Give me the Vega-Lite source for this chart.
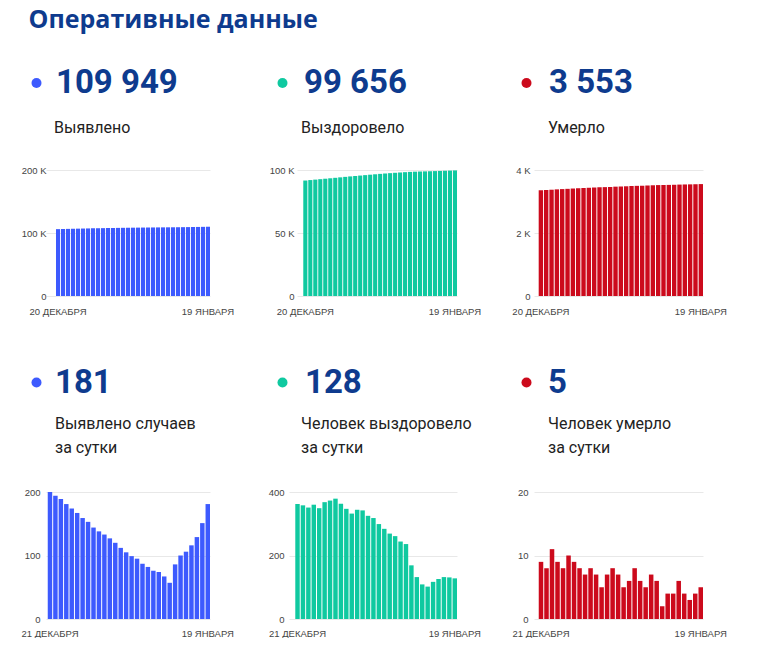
{
  "$schema": "https://vega.github.io/schema/vega-lite/v6.json",
  "background": "white",
  "padding": {"left": 20, "top": 7, "right": 0, "bottom": 0},
  "autosize": {"type": "pad"},
  "title": {"text": "Оперативные данные", "anchor": "start", "frame": "group", "dx": -17.5, "offset": 34, "font": "Open Sans", "fontSize": 25, "fontWeight": "bold", "color": "#0e3b8e"},
  "datasets": {
    "cases_total": [
      {"date": "2020-12-20", "value": 106147}, {"date": "2020-12-21", "value": 106347}, {"date": "2020-12-22", "value": 106541}, {"date": "2020-12-23", "value": 106730}, {"date": "2020-12-24", "value": 106911}, {"date": "2020-12-25", "value": 107085}, {"date": "2020-12-26", "value": 107252}, {"date": "2020-12-27", "value": 107411}, {"date": "2020-12-28", "value": 107564}, {"date": "2020-12-29", "value": 107708}, {"date": "2020-12-30", "value": 107846}, {"date": "2020-12-31", "value": 107979},
      {"date": "2021-01-01", "value": 108106}, {"date": "2021-01-02", "value": 108226}, {"date": "2021-01-03", "value": 108338}, {"date": "2021-01-04", "value": 108443}, {"date": "2021-01-05", "value": 108542}, {"date": "2021-01-06", "value": 108637}, {"date": "2021-01-07", "value": 108724}, {"date": "2021-01-08", "value": 108806}, {"date": "2021-01-09", "value": 108882}, {"date": "2021-01-10", "value": 108956}, {"date": "2021-01-11", "value": 109023}, {"date": "2021-01-12", "value": 109080}, {"date": "2021-01-13", "value": 109166}, {"date": "2021-01-14", "value": 109266}, {"date": "2021-01-15", "value": 109372}, {"date": "2021-01-16", "value": 109488}, {"date": "2021-01-17", "value": 109617}, {"date": "2021-01-18", "value": 109768}, {"date": "2021-01-19", "value": 109949}
    ],
    "recov_total": [
      {"date": "2020-12-20", "value": 91646}, {"date": "2020-12-21", "value": 92008}, {"date": "2020-12-22", "value": 92366}, {"date": "2020-12-23", "value": 92717}, {"date": "2020-12-24", "value": 93077}, {"date": "2020-12-25", "value": 93426}, {"date": "2020-12-26", "value": 93794}, {"date": "2020-12-27", "value": 94167}, {"date": "2020-12-28", "value": 94546}, {"date": "2020-12-29", "value": 94909}, {"date": "2020-12-30", "value": 95256}, {"date": "2020-12-31", "value": 95588},
      {"date": "2021-01-01", "value": 95932}, {"date": "2021-01-02", "value": 96274}, {"date": "2021-01-03", "value": 96599}, {"date": "2021-01-04", "value": 96917}, {"date": "2021-01-05", "value": 97216}, {"date": "2021-01-06", "value": 97500}, {"date": "2021-01-07", "value": 97769}, {"date": "2021-01-08", "value": 98030}, {"date": "2021-01-09", "value": 98274}, {"date": "2021-01-10", "value": 98510}, {"date": "2021-01-11", "value": 98679}, {"date": "2021-01-12", "value": 98811}, {"date": "2021-01-13", "value": 98920}, {"date": "2021-01-14", "value": 99022}, {"date": "2021-01-15", "value": 99139}, {"date": "2021-01-16", "value": 99265}, {"date": "2021-01-17", "value": 99397}, {"date": "2021-01-18", "value": 99528}, {"date": "2021-01-19", "value": 99656}
    ],
    "deaths_total": [
      {"date": "2020-12-20", "value": 3357}, {"date": "2020-12-21", "value": 3366}, {"date": "2020-12-22", "value": 3374}, {"date": "2020-12-23", "value": 3385}, {"date": "2020-12-24", "value": 3394}, {"date": "2020-12-25", "value": 3402}, {"date": "2020-12-26", "value": 3412}, {"date": "2020-12-27", "value": 3421}, {"date": "2020-12-28", "value": 3429}, {"date": "2020-12-29", "value": 3436}, {"date": "2020-12-30", "value": 3444}, {"date": "2020-12-31", "value": 3451},
      {"date": "2021-01-01", "value": 3456}, {"date": "2021-01-02", "value": 3463}, {"date": "2021-01-03", "value": 3471}, {"date": "2021-01-04", "value": 3478}, {"date": "2021-01-05", "value": 3483}, {"date": "2021-01-06", "value": 3489}, {"date": "2021-01-07", "value": 3497}, {"date": "2021-01-08", "value": 3503}, {"date": "2021-01-09", "value": 3508}, {"date": "2021-01-10", "value": 3515}, {"date": "2021-01-11", "value": 3521}, {"date": "2021-01-12", "value": 3523}, {"date": "2021-01-13", "value": 3527}, {"date": "2021-01-14", "value": 3531}, {"date": "2021-01-15", "value": 3537}, {"date": "2021-01-16", "value": 3541}, {"date": "2021-01-17", "value": 3544}, {"date": "2021-01-18", "value": 3548}, {"date": "2021-01-19", "value": 3553}
    ],
    "cases_daily": [
      {"date": "2020-12-21", "value": 200}, {"date": "2020-12-22", "value": 194}, {"date": "2020-12-23", "value": 189}, {"date": "2020-12-24", "value": 181}, {"date": "2020-12-25", "value": 174}, {"date": "2020-12-26", "value": 167}, {"date": "2020-12-27", "value": 159}, {"date": "2020-12-28", "value": 153}, {"date": "2020-12-29", "value": 144}, {"date": "2020-12-30", "value": 138}, {"date": "2020-12-31", "value": 133},
      {"date": "2021-01-01", "value": 127}, {"date": "2021-01-02", "value": 120}, {"date": "2021-01-03", "value": 112}, {"date": "2021-01-04", "value": 105}, {"date": "2021-01-05", "value": 99}, {"date": "2021-01-06", "value": 95}, {"date": "2021-01-07", "value": 87}, {"date": "2021-01-08", "value": 82}, {"date": "2021-01-09", "value": 76}, {"date": "2021-01-10", "value": 74}, {"date": "2021-01-11", "value": 67}, {"date": "2021-01-12", "value": 57}, {"date": "2021-01-13", "value": 86}, {"date": "2021-01-14", "value": 100}, {"date": "2021-01-15", "value": 106}, {"date": "2021-01-16", "value": 116}, {"date": "2021-01-17", "value": 129}, {"date": "2021-01-18", "value": 151}, {"date": "2021-01-19", "value": 181}
    ],
    "recov_daily": [
      {"date": "2020-12-21", "value": 362}, {"date": "2020-12-22", "value": 358}, {"date": "2020-12-23", "value": 351}, {"date": "2020-12-24", "value": 360}, {"date": "2020-12-25", "value": 349}, {"date": "2020-12-26", "value": 368}, {"date": "2020-12-27", "value": 373}, {"date": "2020-12-28", "value": 379}, {"date": "2020-12-29", "value": 363}, {"date": "2020-12-30", "value": 347}, {"date": "2020-12-31", "value": 332},
      {"date": "2021-01-01", "value": 344}, {"date": "2021-01-02", "value": 342}, {"date": "2021-01-03", "value": 325}, {"date": "2021-01-04", "value": 318}, {"date": "2021-01-05", "value": 299}, {"date": "2021-01-06", "value": 284}, {"date": "2021-01-07", "value": 269}, {"date": "2021-01-08", "value": 261}, {"date": "2021-01-09", "value": 244}, {"date": "2021-01-10", "value": 236}, {"date": "2021-01-11", "value": 169}, {"date": "2021-01-12", "value": 132}, {"date": "2021-01-13", "value": 109}, {"date": "2021-01-14", "value": 102}, {"date": "2021-01-15", "value": 117}, {"date": "2021-01-16", "value": 126}, {"date": "2021-01-17", "value": 132}, {"date": "2021-01-18", "value": 131}, {"date": "2021-01-19", "value": 128}
    ],
    "deaths_daily": [
      {"date": "2020-12-21", "value": 9}, {"date": "2020-12-22", "value": 8}, {"date": "2020-12-23", "value": 11}, {"date": "2020-12-24", "value": 9}, {"date": "2020-12-25", "value": 8}, {"date": "2020-12-26", "value": 10}, {"date": "2020-12-27", "value": 9}, {"date": "2020-12-28", "value": 8}, {"date": "2020-12-29", "value": 7}, {"date": "2020-12-30", "value": 8}, {"date": "2020-12-31", "value": 7},
      {"date": "2021-01-01", "value": 5}, {"date": "2021-01-02", "value": 7}, {"date": "2021-01-03", "value": 8}, {"date": "2021-01-04", "value": 7}, {"date": "2021-01-05", "value": 5}, {"date": "2021-01-06", "value": 6}, {"date": "2021-01-07", "value": 8}, {"date": "2021-01-08", "value": 6}, {"date": "2021-01-09", "value": 5}, {"date": "2021-01-10", "value": 7}, {"date": "2021-01-11", "value": 6}, {"date": "2021-01-12", "value": 2}, {"date": "2021-01-13", "value": 4}, {"date": "2021-01-14", "value": 4}, {"date": "2021-01-15", "value": 6}, {"date": "2021-01-16", "value": 4}, {"date": "2021-01-17", "value": 3}, {"date": "2021-01-18", "value": 4}, {"date": "2021-01-19", "value": 5}
    ]
  },
  "spacing": 322,
  "bounds": "flush",
  "resolve": {"scale": {"x": "independent", "y": "independent", "fill": "independent", "stroke": "independent"}, "legend": {"fill": "independent", "stroke": "independent"}},
  "vconcat": [
    {
      "spacing": 488,
      "bounds": "flush",
      "resolve": {"scale": {"x": "independent", "y": "independent", "fill": "independent", "stroke": "independent"}, "legend": {"fill": "independent", "stroke": "independent"}},
      "hconcat": [
        {
          "spacing": 87,
          "bounds": "flush",
          "resolve": {"scale": {"x": "independent", "y": "independent", "fill": "independent", "stroke": "independent"}, "legend": {"fill": "independent", "stroke": "independent"}},
          "hconcat": [
            {
              "width": 164, "height": 126,
              "data": {"name": "cases_total"},
              "mark": {"type": "bar", "strokeWidth": 0},
              "encoding": {
                "x": {"field": "date", "type": "ordinal", "scale": {"paddingInner": 0.18, "paddingOuter": 1.0, "align": 1},
                  "axis": {"values": ["2020-12-20", "2021-01-19"], "labelExpr": "datum.value == '2021-01-19' ? '19 ЯНВАРЯ' : (datum.value == '2020-12-20' ? '20 ДЕКАБРЯ' : '21 ДЕКАБРЯ')", "labelPadding": 10, "labelOverlap": false, "labelFlush": false, "labelBound": false}},
                "y": {"field": "value", "type": "quantitative", "scale": {"domain": [0, 200000], "nice": false},
                  "axis": {"values": [0, 100000, 200000], "labelExpr": "datum.value == 0 ? '0' : format(datum.value / 1000, 'd') + ' K'", "labelPadding": 0}},
                "fill": {"datum": "109 949", "scale": {"range": ["#3d5afe"]},
                  "legend": {"orient": "none", "legendX": -26, "legendY": -103.5, "title": null, "symbolType": "circle", "symbolSize": 100, "symbolStrokeWidth": 0, "labelFont": "Roboto", "labelFontSize": 33, "labelFontWeight": "bold", "labelColor": "#0e3b8e", "labelOffset": 3, "labelLimit": 400, "padding": 0}},
                "stroke": {"datum": "Выявлено", "scale": {"range": ["#ffffff"]},
                  "legend": {"orient": "none", "legendX": 8, "legendY": -50, "title": "Выявлено", "titleFont": "Roboto", "titleFontSize": 16, "titleFontWeight": "normal", "titleColor": "#222222", "titleLimit": 400, "titleLineHeight": 24, "titlePadding": 0, "symbolOpacity": 0, "labelOpacity": 0, "padding": 0}}
              }
            },
            {
              "width": 160, "height": 126,
              "data": {"name": "recov_total"},
              "mark": {"type": "bar", "strokeWidth": 0},
              "encoding": {
                "x": {"field": "date", "type": "ordinal", "scale": {"paddingInner": 0.18, "paddingOuter": 0.63, "align": 1},
                  "axis": {"values": ["2020-12-20", "2021-01-19"], "labelExpr": "datum.value == '2021-01-19' ? '19 ЯНВАРЯ' : (datum.value == '2020-12-20' ? '20 ДЕКАБРЯ' : '21 ДЕКАБРЯ')", "labelPadding": 10, "labelOverlap": false, "labelFlush": false, "labelBound": false}},
                "y": {"field": "value", "type": "quantitative", "scale": {"domain": [0, 100000], "nice": false},
                  "axis": {"values": [0, 50000, 100000], "labelExpr": "datum.value == 0 ? '0' : format(datum.value / 1000, 'd') + ' K'", "labelPadding": 3}},
                "fill": {"datum": "99 656", "scale": {"range": ["#0fc9a0"]},
                  "legend": {"orient": "none", "legendX": -31, "legendY": -103.5, "title": null, "symbolType": "circle", "symbolSize": 100, "symbolStrokeWidth": 0, "labelFont": "Roboto", "labelFontSize": 33, "labelFontWeight": "bold", "labelColor": "#0e3b8e", "labelOffset": 5, "labelLimit": 400, "padding": 0}},
                "stroke": {"datum": "Выздоровело", "scale": {"range": ["#ffffff"]},
                  "legend": {"orient": "none", "legendX": 4, "legendY": -50, "title": "Выздоровело", "titleFont": "Roboto", "titleFontSize": 16, "titleFontWeight": "normal", "titleColor": "#222222", "titleLimit": 400, "titleLineHeight": 24, "titlePadding": 0, "symbolOpacity": 0, "labelOpacity": 0, "padding": 0}}
              }
            }
          ]
        },
        {
          "width": 169, "height": 126,
          "data": {"name": "deaths_total"},
          "mark": {"type": "bar", "strokeWidth": 0},
          "encoding": {
            "x": {"field": "date", "type": "ordinal", "scale": {"paddingInner": 0.18, "paddingOuter": 0.44, "align": 1},
              "axis": {"values": ["2020-12-20", "2021-01-19"], "labelExpr": "datum.value == '2021-01-19' ? '19 ЯНВАРЯ' : (datum.value == '2020-12-20' ? '20 ДЕКАБРЯ' : '21 ДЕКАБРЯ')", "labelPadding": 10, "labelOverlap": false, "labelFlush": false, "labelBound": false}},
            "y": {"field": "value", "type": "quantitative", "scale": {"domain": [0, 4000], "nice": false},
              "axis": {"values": [0, 2000, 4000], "labelExpr": "datum.value == 0 ? '0' : format(datum.value / 1000, 'd') + ' K'", "labelPadding": 4}},
            "fill": {"datum": "3 553", "scale": {"range": ["#cc0a1c"]},
              "legend": {"orient": "none", "legendX": -24, "legendY": -103.5, "title": null, "symbolType": "circle", "symbolSize": 100, "symbolStrokeWidth": 0, "labelFont": "Roboto", "labelFontSize": 33, "labelFontWeight": "bold", "labelColor": "#0e3b8e", "labelOffset": 6, "labelLimit": 400, "padding": 0}},
            "stroke": {"datum": "Умерло", "scale": {"range": ["#ffffff"]},
              "legend": {"orient": "none", "legendX": 14, "legendY": -50, "title": "Умерло", "titleFont": "Roboto", "titleFontSize": 16, "titleFontWeight": "normal", "titleColor": "#222222", "titleLimit": 400, "titleLineHeight": 24, "titlePadding": 0, "symbolOpacity": 0, "labelOpacity": 0, "padding": 0}}
          }
        }
      ]
    },
    {
      "spacing": 488,
      "bounds": "flush",
      "resolve": {"scale": {"x": "independent", "y": "independent", "fill": "independent", "stroke": "independent"}, "legend": {"fill": "independent", "stroke": "independent"}},
      "hconcat": [
        {
          "spacing": 79,
          "bounds": "flush",
          "resolve": {"scale": {"x": "independent", "y": "independent", "fill": "independent", "stroke": "independent"}, "legend": {"fill": "independent", "stroke": "independent"}},
          "hconcat": [
            {
              "width": 164, "height": 127,
              "data": {"name": "cases_daily"},
              "mark": {"type": "bar", "strokeWidth": 0},
              "encoding": {
                "x": {"field": "date", "type": "ordinal", "scale": {"paddingInner": 0.18, "paddingOuter": 0.16, "align": 1},
                  "axis": {"values": ["2020-12-21", "2021-01-19"], "labelExpr": "datum.value == '2021-01-19' ? '19 ЯНВАРЯ' : (datum.value == '2020-12-20' ? '20 ДЕКАБРЯ' : '21 ДЕКАБРЯ')", "labelPadding": 9.5, "labelOverlap": false, "labelFlush": false, "labelBound": false}},
                "y": {"field": "value", "type": "quantitative", "scale": {"domain": [0, 200], "nice": false},
                  "axis": {"values": [0, 100, 200], "labelPadding": 6}},
                "fill": {"datum": "181", "scale": {"range": ["#3d5afe"]},
                  "legend": {"orient": "none", "legendX": -26, "legendY": -126, "title": null, "symbolType": "circle", "symbolSize": 100, "symbolStrokeWidth": 0, "labelFont": "Roboto", "labelFontSize": 33, "labelFontWeight": "bold", "labelColor": "#0e3b8e", "labelOffset": 2, "labelLimit": 400, "padding": 0}},
                "stroke": {"datum": "Выявлено случаев за сутки", "scale": {"range": ["#ffffff"]},
                  "legend": {"orient": "none", "legendX": 9, "legendY": -76, "title": ["Выявлено случаев", "за сутки"], "titleFont": "Roboto", "titleFontSize": 16, "titleFontWeight": "normal", "titleColor": "#222222", "titleLimit": 400, "titleLineHeight": 24, "titlePadding": 0, "symbolOpacity": 0, "labelOpacity": 0, "padding": 0}}
              }
            },
            {
              "width": 168, "height": 127,
              "data": {"name": "recov_daily"},
              "mark": {"type": "bar", "strokeWidth": 0},
              "encoding": {
                "x": {"field": "date", "type": "ordinal", "scale": {"paddingInner": 0.18, "paddingOuter": 0.58, "align": 1},
                  "axis": {"values": ["2020-12-21", "2021-01-19"], "labelExpr": "datum.value == '2021-01-19' ? '19 ЯНВАРЯ' : (datum.value == '2020-12-20' ? '20 ДЕКАБРЯ' : '21 ДЕКАБРЯ')", "labelPadding": 9.5, "labelOverlap": false, "labelFlush": false, "labelBound": false}},
                "y": {"field": "value", "type": "quantitative", "scale": {"domain": [0, 400], "nice": false},
                  "axis": {"values": [0, 200, 400], "labelPadding": 5}},
                "fill": {"datum": "128", "scale": {"range": ["#0fc9a0"]},
                  "legend": {"orient": "none", "legendX": -23, "legendY": -126, "title": null, "symbolType": "circle", "symbolSize": 100, "symbolStrokeWidth": 0, "labelFont": "Roboto", "labelFontSize": 33, "labelFontWeight": "bold", "labelColor": "#0e3b8e", "labelOffset": 6, "labelLimit": 400, "padding": 0}},
                "stroke": {"datum": "Человек выздоровело за сутки", "scale": {"range": ["#ffffff"]},
                  "legend": {"orient": "none", "legendX": 12, "legendY": -76, "title": ["Человек выздоровело", "за сутки"], "titleFont": "Roboto", "titleFontSize": 16, "titleFontWeight": "normal", "titleColor": "#222222", "titleLimit": 400, "titleLineHeight": 24, "titlePadding": 0, "symbolOpacity": 0, "labelOpacity": 0, "padding": 0}}
              }
            }
          ]
        },
        {
          "width": 169, "height": 127,
          "data": {"name": "deaths_daily"},
          "mark": {"type": "bar", "strokeWidth": 0},
          "encoding": {
            "x": {"field": "date", "type": "ordinal", "scale": {"paddingInner": 0.18, "paddingOuter": 0.43, "align": 1},
              "axis": {"values": ["2020-12-21", "2021-01-19"], "labelExpr": "datum.value == '2021-01-19' ? '19 ЯНВАРЯ' : (datum.value == '2020-12-20' ? '20 ДЕКАБРЯ' : '21 ДЕКАБРЯ')", "labelPadding": 9.5, "labelOverlap": false, "labelFlush": false, "labelBound": false}},
            "y": {"field": "value", "type": "quantitative", "scale": {"domain": [0, 20], "nice": false},
              "axis": {"values": [0, 10, 20], "labelPadding": 6}},
            "fill": {"datum": "5", "scale": {"range": ["#cc0a1c"]},
              "legend": {"orient": "none", "legendX": -24, "legendY": -126, "title": null, "symbolType": "circle", "symbolSize": 100, "symbolStrokeWidth": 0, "labelFont": "Roboto", "labelFontSize": 33, "labelFontWeight": "bold", "labelColor": "#0e3b8e", "labelOffset": 5, "labelLimit": 400, "padding": 0}},
            "stroke": {"datum": "Человек умерло за сутки", "scale": {"range": ["#ffffff"]},
              "legend": {"orient": "none", "legendX": 14, "legendY": -76, "title": ["Человек умерло", "за сутки"], "titleFont": "Roboto", "titleFontSize": 16, "titleFontWeight": "normal", "titleColor": "#222222", "titleLimit": 400, "titleLineHeight": 24, "titlePadding": 0, "symbolOpacity": 0, "labelOpacity": 0, "padding": 0}}
          }
        }
      ]
    }
  ],
  "config": {
    "view": {"stroke": null},
    "font": "Roboto",
    "axis": {"labelFont": "Liberation Sans", "labelFontSize": 9.5, "labelColor": "#444444", "domain": false, "ticks": false, "title": null},
    "axisX": {"grid": false, "labelAngle": 0},
    "axisY": {"grid": true, "gridColor": "#e8e8e8", "gridWidth": 1},
    "legend": {"padding": 0}
  }
}
